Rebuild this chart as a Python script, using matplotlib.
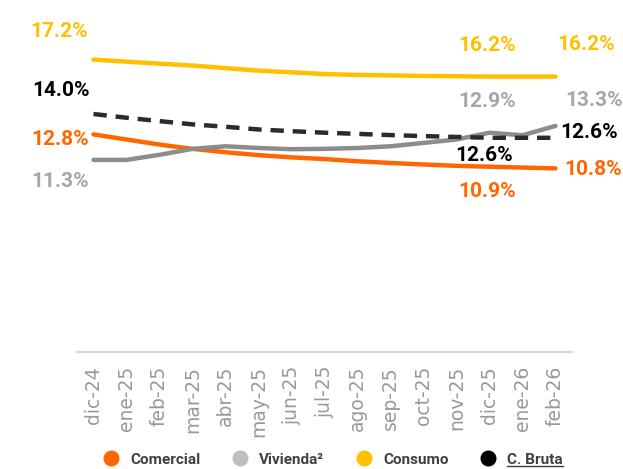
import matplotlib.pyplot as plt
from matplotlib.lines import Line2D

# datos (%)
meses = ['dic-24', 'ene-25', 'feb-25', 'mar-25', 'abr-25', 'may-25', 'jun-25',
         'jul-25', 'ago-25', 'sep-25', 'oct-25', 'nov-25', 'dic-25', 'ene-26', 'feb-26']
comercial = [12.8, 12.5, 12.2, 11.95, 11.75, 11.58, 11.45, 11.35, 11.22, 11.12, 11.03, 10.95, 10.9, 10.85, 10.8]
vivienda = [11.3, 11.3, 11.6, 11.95, 12.1, 12.0, 11.93, 11.95, 12.0, 12.1, 12.3, 12.5, 12.9, 12.75, 13.3]
consumo = [17.2, 17.08, 16.96, 16.85, 16.7, 16.55, 16.45, 16.35, 16.3, 16.27, 16.24, 16.22, 16.2, 16.2, 16.2]
bruta = [14.0, 13.78, 13.58, 13.39, 13.25, 13.09, 12.99, 12.9, 12.83, 12.76, 12.7, 12.65, 12.6, 12.6, 12.6]

FUENTE = ['Roboto', 'DejaVu Sans']

fig = plt.figure(figsize=(6.23, 4.69), dpi=100)
ax = fig.add_axes([77 / 623, 117 / 469, 495 / 623, 340 / 469])

x = list(range(len(meses)))
ax.plot(x, consumo, color='#FFC000', lw=3.2, solid_capstyle='round', solid_joinstyle='round', zorder=2)
ax.plot(x, vivienda, color='#8C8C8C', lw=3.2, solid_capstyle='round', solid_joinstyle='round', zorder=3)
ax.plot(x, comercial, color='#FF6600', lw=3.2, solid_capstyle='round', solid_joinstyle='round', zorder=2)
ax.plot(x, bruta, color='#2B2B2B', lw=3.2, dashes=(3, 2), zorder=4)

# etiquetas de valor: (serie, indice, color, dx px, dy px)
etiquetas = [
    (consumo, 0, '#FFC000', -34, 28), (bruta, 0, '#000000', -32, 24),
    (comercial, 0, '#FF6600', -33, -5), (vivienda, 0, '#A6A6A6', -33, -22),
    (consumo, 12, '#FFC000', -2, 31), (vivienda, 12, '#A6A6A6', -2, 31),
    (bruta, 12, '#000000', -5, -18), (comercial, 12, '#FF6600', -2, -25),
    (consumo, 14, '#FFC000', 31, 32), (vivienda, 14, '#A6A6A6', 39, 25),
    (bruta, 14, '#000000', 34, 5), (comercial, 14, '#FF6600', 38, -1),
]
for serie, i, col, dx, dy in etiquetas:
    ax.annotate(f"{serie[i]:.1f}%", xy=(i, serie[i]), xytext=(dx * 0.72, dy * 0.72),
                textcoords='offset points', ha='center', va='center', color=col,
                fontsize=15, fontweight='bold', family=FUENTE, annotation_clip=False)

ax.set_xlim(-0.5, 14.5)
ax.set_ylim(0, 20)
ax.set_xticks(x)
ax.set_xticklabels(meses, rotation=90, fontsize=13.5, color='#999999', family='DejaVu Sans')
ax.tick_params(axis='x', length=0, pad=10)
ax.set_yticks([])
for s in ['top', 'right', 'left']:
    ax.spines[s].set_visible(False)
ax.spines['bottom'].set_color('#D9D9D9')
ax.spines['bottom'].set_linewidth(1.5)

handles = [
    Line2D([], [], marker='o', ls='none', markersize=10.5, color='#FF6600', label='Comercial'),
    Line2D([], [], marker='o', ls='none', markersize=10.5, color='#BFBFBF', label='Vivienda²'),
    Line2D([], [], marker='o', ls='none', markersize=10.5, color='#FFC000', label='Consumo'),
    Line2D([], [], marker='o', ls='none', markersize=10.5, color='#000000', label='C. Bruta'),
]
leg = fig.legend(handles=handles, loc='center', bbox_to_anchor=(0.535, 0.02), ncol=4,
                 frameon=False, handlelength=1.0, handletextpad=0.75, columnspacing=2.1,
                 borderpad=0, prop={'family': FUENTE, 'weight': 'bold', 'size': 11})
for t in leg.get_texts():
    t.set_color('#404040')

# subrayado de "C. Bruta"
fig.canvas.draw()
bb = leg.get_texts()[3].get_window_extent()
inv = fig.transFigure.inverted()
(x0, y0), (x1, _) = inv.transform([(bb.x0, bb.y0 + 1), (bb.x1, bb.y0 + 1)])
fig.add_artist(Line2D([x0, x1], [y0, y0], color='#404040', lw=1.0, transform=fig.transFigure))

fig.savefig('out.png', dpi=100)
